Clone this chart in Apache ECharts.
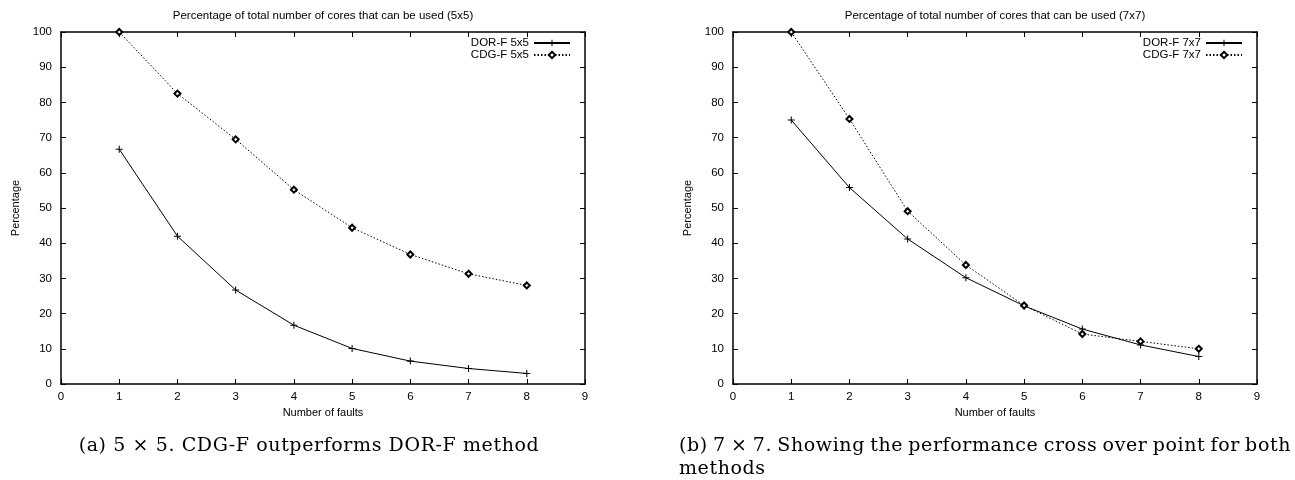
<!DOCTYPE html>
<html>
<head>
<meta charset="utf-8">
<script src="https://cdn.jsdelivr.net/npm/echarts@6/dist/echarts.min.js"></script>
<style>
    body { margin: 0; background: #fff; }
    #chart { position: absolute; left: 0; top: 0; width: 1295px; height: 480px; }
    .caption {
        position: absolute;
        font-family: "DejaVu Serif", "Liberation Serif", serif;
        font-size: 19px;
        letter-spacing: 0.6px;
        line-height: 23px;
        color: #000;
        white-space: nowrap;
    }
    #cap_a { left: 0; top: 433px; width: 618px; text-align: center; }
    #cap_b1 { left: 679px; top: 433px; }
    #cap_b2 { left: 679px; top: 456px; }
</style>
</head>
<body>
<div id="chart"></div>
<div class="caption" id="cap_a">(a) 5 × 5. CDG-F outperforms DOR-F method</div>
<div class="caption" id="cap_b1">(b) 7 × 7. Showing the performance cross over point for both</div>
<div class="caption" id="cap_b2">methods</div>
<script>
const faults = [1, 2, 3, 4, 5, 6, 7, 8];
const dor5 = [66.7, 42.0, 26.7, 16.7, 10.1, 6.5, 4.4, 3.0];
const cdg5 = [100, 82.5, 69.5, 55.2, 44.4, 36.8, 31.3, 28.0];
const dor7 = [75.0, 55.8, 41.2, 30.2, 22.2, 15.6, 11.1, 7.8];
const cdg7 = [100, 75.3, 49.1, 33.8, 22.3, 14.2, 12.1, 10.0];
const titles = [
    'Percentage of total number of cores that can be used (5x5)',
    'Percentage of total number of cores that can be used (7x7)'
];
const seriesNames = [['DOR-F 5x5', 'CDG-F 5x5'], ['DOR-F 7x7', 'CDG-F 7x7']];

const font = '"Liberation Sans", Arial, sans-serif';
const plusSymbol = 'path://M0,4.25h10v1.5h-10z M4.25,0h1.5v10h-1.5z';
const grids = [
    { left: 61, top: 32, width: 524, height: 352 },
    { left: 733, top: 32, width: 524, height: 352 }
];

// justify the first caption line of (b) to 612px like LaTeX does
(function justifyLine() {
    let line = document.getElementById('cap_b1');
    let spaces = line.textContent.split(' ').length - 1;
    let extra = (612 - line.getBoundingClientRect().width) / spaces;
    line.style.wordSpacing = extra + 'px';
})();

function pairs(values) {
    return faults.map((f, i) => [f, values[i]]);
}

let xAxes = [], yAxes = [], legends = [], graphics = [];
grids.forEach((g, i) => {
    let base = {
        gridIndex: i,
        type: 'value',
        axisLine: { show: true, onZero: false, lineStyle: { color: '#000', width: 1.5 } },
        axisTick: { show: true, inside: true, length: 5, lineStyle: { color: '#000', width: 1 } },
        splitLine: { show: false }
    };
    xAxes.push(Object.assign({}, base, {
        position: 'bottom', min: 0, max: 9, interval: 1,
        name: 'Number of faults', nameLocation: 'middle', nameGap: 23,
        nameTextStyle: { fontFamily: font, fontSize: 11, color: '#000' },
        axisLabel: { fontFamily: font, fontSize: 11.5, color: '#000', margin: 7 }
    }));
    xAxes.push(Object.assign({}, base, {
        position: 'top', min: 0, max: 9, interval: 1,
        axisLabel: { show: false }
    }));
    yAxes.push(Object.assign({}, base, {
        position: 'left', min: 0, max: 100, interval: 10,
        name: 'Percentage', nameLocation: 'middle', nameGap: 40,
        nameTextStyle: { fontFamily: font, fontSize: 11, color: '#000' },
        axisLabel: { fontFamily: font, fontSize: 11.5, color: '#000', margin: 9 }
    }));
    yAxes.push(Object.assign({}, base, {
        position: 'right', min: 0, max: 100, interval: 10,
        axisLabel: { show: false }
    }));
    legends.push({
        data: seriesNames[i],
        orient: 'vertical',
        align: 'right',
        right: 1295 - (g.left + g.width) + 14,
        top: 37,
        itemWidth: 36,
        itemHeight: 8,
        itemGap: 0,
        textStyle: { fontFamily: font, fontSize: 11.5, color: '#000' },
        padding: 0,
        selectedMode: false
    });
    graphics.push({
        type: 'text',
        x: g.left + g.width / 2,
        y: 16,
        style: {
            text: titles[i], align: 'center', verticalAlign: 'middle',
            fontFamily: font, fontSize: 11.5, fill: '#000'
        }
    });
});

function solid(name, data, idx) {
    return {
        name: name, type: 'line', data: pairs(data),
        xAxisIndex: idx * 2, yAxisIndex: idx * 2,
        symbol: plusSymbol, symbolSize: 7,
        itemStyle: { color: '#000' },
        lineStyle: { color: '#000', width: 1 },
        animation: false
    };
}

function dotted(name, data, idx) {
    return {
        name: name, type: 'line', data: pairs(data),
        xAxisIndex: idx * 2, yAxisIndex: idx * 2,
        symbol: 'emptyDiamond', symbolSize: 6,
        itemStyle: { color: '#000', borderWidth: 1 },
        lineStyle: { color: '#000', width: 1, type: [1.5, 2] },
        animation: false
    };
}

let chart = echarts.init(document.getElementById('chart'));
chart.setOption({
    backgroundColor: '#fff',
    animation: false,
    grid: grids,
    xAxis: xAxes,
    yAxis: yAxes,
    legend: legends,
    graphic: graphics,
    series: [
        solid(seriesNames[0][0], dor5, 0),
        dotted(seriesNames[0][1], cdg5, 0),
        solid(seriesNames[1][0], dor7, 1),
        dotted(seriesNames[1][1], cdg7, 1)
    ]
});
</script>
</body>
</html>
